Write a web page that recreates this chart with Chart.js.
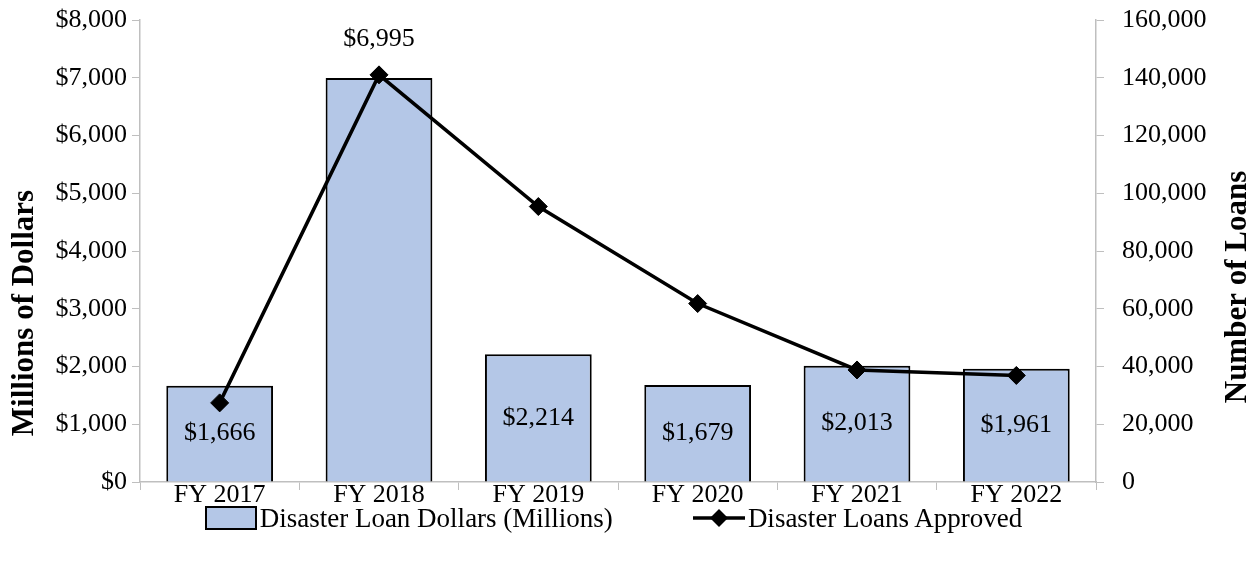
<!DOCTYPE html>
<html>
<head>
<meta charset="utf-8">
<script src="https://cdn.jsdelivr.net/npm/chart.js@4.4.0/dist/chart.umd.min.js"></script>
<style>
html,body{margin:0;padding:0;background:#fff;}
#wrap{position:relative;width:1257px;height:561px;overflow:hidden;}
#c{position:absolute;left:0;top:0;}
#legend{position:absolute;left:0;right:30px;top:503px;display:flex;justify-content:center;align-items:center;font:27px "Liberation Serif",serif;line-height:30px;color:#000;white-space:nowrap;}
.item{display:flex;align-items:center;}
.swatch{width:48px;height:20px;background:#b4c7e7;border:2px solid #000;margin-right:3px;}
.lineSym{margin-right:3px;}
</style>
</head>
<body>
<div id="wrap">
  <canvas id="c" width="1257" height="561"></canvas>
  <div id="legend"></div>
</div>
<script>
// data
const years=['FY 2017','FY 2018','FY 2019','FY 2020','FY 2021','FY 2022'];
const loanDollars=[1666,6995,2214,1679,2013,1961];       // millions
const loansApproved=[27400,141000,95400,61800,38800,36900];
const dollarMax=8000, dollarStep=1000;
const loansMax=160000, loansStep=20000;
const barLabel='Disaster Loan Dollars (Millions)';
const lineLabel='Disaster Loans Approved';
const leftTitle='Millions of Dollars';
const rightTitle='Number of Loans';
const labelAbove='FY 2018'; // this bar's label sits over the bar, the line covers its middle

const AXIS='#bfbfbf';
const FONT={family:'"Liberation Serif", serif',size:26};
const TITLE_FONT={family:'"Liberation Serif", serif',size:31,weight:'bold'};

// bar value labels, centred in the bar
const barLabels={
  id:'barLabels',
  afterDatasetsDraw(chart){
    const ctx=chart.ctx;
    const meta=chart.getDatasetMeta(1);
    ctx.save();
    ctx.font='26px "Liberation Serif", serif';
    ctx.fillStyle='#000';
    ctx.textAlign='center';
    ctx.textBaseline='middle';
    meta.data.forEach((bar,i)=>{
      const txt='$'+loanDollars[i].toLocaleString('en-US');
      const y=years[i]===labelAbove ? bar.y-39 : (bar.y+bar.base)/2;
      ctx.fillText(txt,bar.x,y);
    });
    ctx.restore();
  }
};

// right axis title reads bottom-to-top like the left one
const rightAxisTitle={
  id:'rightAxisTitle',
  afterDraw(chart){
    const ctx=chart.ctx, a=chart.chartArea;
    ctx.save();
    ctx.font='bold 31px "Liberation Serif", serif';
    ctx.fillStyle='#000';
    ctx.textAlign='center';
    ctx.textBaseline='middle';
    ctx.translate(1238,(a.top+a.bottom)/2+36);
    ctx.rotate(-Math.PI/2);
    ctx.fillText(rightTitle,0,0);
    ctx.restore();
  }
};

// no extra room above/below the value axes for the end labels
const noEndPadding=s=>{s.paddingTop=0;s.paddingBottom=0;};

const ctx=document.getElementById('c').getContext('2d');
const chart=new Chart(ctx,{
  data:{
    labels:years,
    datasets:[
      {type:'line',label:lineLabel,data:loansApproved,yAxisID:'y2',borderColor:'#000',backgroundColor:'#000',
       borderWidth:3.5,pointStyle:'rectRot',pointRadius:9,pointHoverRadius:9,pointBorderWidth:1,tension:0,order:0},
      {type:'bar',label:barLabel,data:loanDollars,yAxisID:'y',backgroundColor:'#b4c7e7',borderColor:'#000',
       borderWidth:2,barPercentage:0.67,categoryPercentage:1,order:1}
    ]
  },
  options:{
    responsive:false,animation:false,
    layout:{padding:{top:20,left:0,right:0,bottom:0}},
    plugins:{legend:{display:false},tooltip:{enabled:false}},
    scales:{
      x:{
        grid:{offset:true,drawOnChartArea:false,tickLength:8,color:AXIS},
        border:{color:AXIS,width:1.5},
        ticks:{font:FONT,color:'#000',padding:-10,maxRotation:0},
        afterFit(s){s.height=79;}
      },
      y:{
        position:'left',min:0,max:dollarMax,
        ticks:{stepSize:dollarStep,font:FONT,color:'#000',padding:5,
               callback:v=>'$'+v.toLocaleString('en-US')},
        grid:{drawOnChartArea:false,tickLength:8,color:AXIS},
        border:{color:AXIS,width:1.5},
        title:{display:true,text:leftTitle+'\u00a0'.repeat(16),font:TITLE_FONT,color:'#000',padding:{top:6,bottom:0}},
        afterFit(s){s.width=140;noEndPadding(s);}
      },
      y2:{
        position:'right',min:0,max:loansMax,
        ticks:{stepSize:loansStep,font:FONT,color:'#000',padding:18,
               callback:v=>v.toLocaleString('en-US')},
        grid:{drawOnChartArea:false,tickLength:8,color:AXIS},
        border:{color:AXIS,width:1.5},
        afterFit(s){s.width=161;noEndPadding(s);}
      }
    }
  },
  plugins:[barLabels,rightAxisTitle]
});

// legend
const lg=document.getElementById('legend');
lg.innerHTML=
  '<div class="item" style="margin-right:80px"><div class="swatch"></div><span>'+barLabel+'</span></div>'+
  '<div class="item"><svg class="lineSym" width="52" height="22" viewBox="0 0 52 22">'+
  '<line x1="0" y1="11" x2="52" y2="11" stroke="#000" stroke-width="3.5"/>'+
  '<polygon points="26,2 35,11 26,20 17,11" fill="#000"/></svg><span>'+lineLabel+'</span></div>';
</script>
</body>
</html>
